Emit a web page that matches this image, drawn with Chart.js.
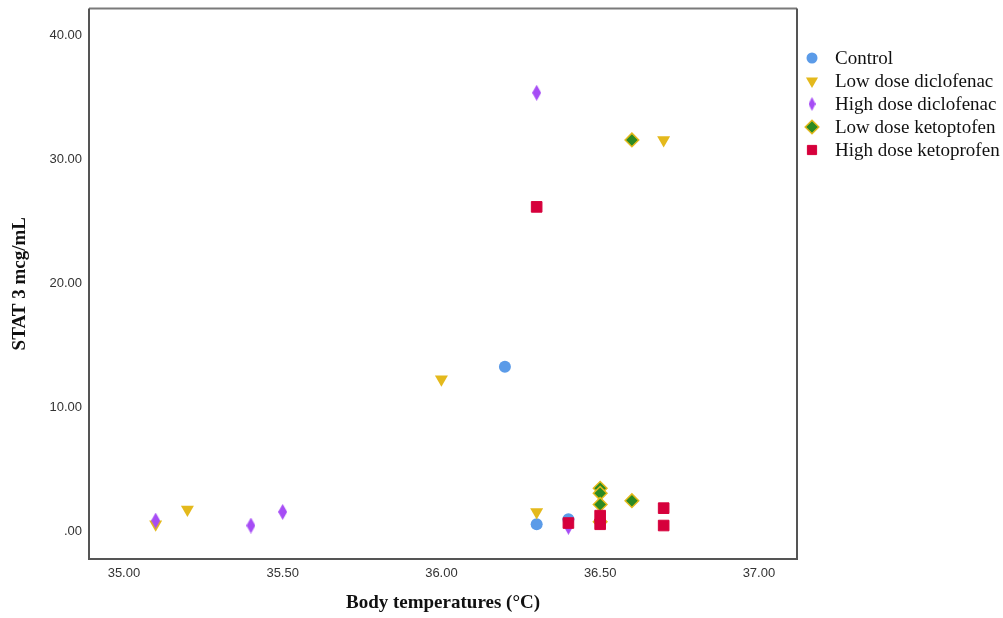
<!DOCTYPE html>
<html>
<head>
<meta charset="utf-8">
<title>STAT 3 vs body temperature</title>
<script src="https://cdn.jsdelivr.net/npm/chart.js@4.4.1/dist/chart.umd.min.js"></script>
<style>
  body { margin: 0; background: #fff; }
  #wrap { width: 1003px; height: 618px; }
</style>
</head>
<body>
<div id="wrap"><canvas id="scatterChart" width="1003" height="618"></canvas></div>
<script>
// Series values
const seriesNames = ['Control', 'Low dose diclofenac', 'High dose diclofenac', 'Low dose ketoptofen', 'High dose ketoprofen'];

const controlTemp = [36.2, 36.3, 36.4];
const controlStat = [13.3, 0.6, 1.0];

const lowDicloTemp = [35.1, 35.2, 36.0, 36.3, 36.7];
const lowDicloStat = [0.6, 1.8, 12.3, 1.6, 31.6];

const highDicloTemp = [35.1, 35.4, 35.5, 36.3, 36.4];
const highDicloStat = [0.9, 0.5, 1.6, 35.4, 0.4];

const lowKetoTemp = [36.5, 36.5, 36.5, 36.5, 36.6, 36.6];
const lowKetoStat = [3.5, 3.1, 2.2, 0.8, 31.6, 2.5];

const highKetoTemp = [36.3, 36.4, 36.5, 36.5, 36.7, 36.7];
const highKetoStat = [26.2, 0.7, 1.3, 0.6, 1.9, 0.5];

// Tick labels
const xTicks = [35.0, 35.5, 36.0, 36.5, 37.0];
const yTicks = [0, 10, 20, 30, 40];

function toPoints(xs, ys) {
    return xs.map((x, i) => ({ x: x, y: ys[i] }));
}

// thin purple diamond used by the high dose diclofenac group
function thinDiamond(color, w, h) {
    const c = document.createElement('canvas');
    c.width = w;
    c.height = h;
    const g = c.getContext('2d');
    g.fillStyle = color;
    g.beginPath();
    g.moveTo(w / 2, 0);
    g.lineTo(w, h / 2);
    g.lineTo(w / 2, h);
    g.lineTo(0, h / 2);
    g.closePath();
    g.fill();
    return c;
}

const purpleDiamond = thinDiamond('#a64cf5', 9, 16);
const purpleDiamondSmall = thinDiamond('#a64cf5', 7, 14);

const serif = '"Liberation Serif", "Times New Roman", serif';

// frame round the plot area
const framePlugin = {
    id: 'frame',
    beforeDatasetsDraw(chart) {
        const a = chart.chartArea;
        const ctx = chart.ctx;
        ctx.save();
        ctx.lineWidth = 2;
        ctx.strokeStyle = '#7a7a7a';
        ctx.beginPath();
        ctx.moveTo(a.left, a.top);
        ctx.lineTo(a.right, a.top);
        ctx.stroke();
        ctx.strokeStyle = '#555';
        ctx.beginPath();
        ctx.moveTo(a.left, a.top);
        ctx.lineTo(a.left, a.bottom);
        ctx.lineTo(a.right, a.bottom);
        ctx.lineTo(a.right, a.top);
        ctx.stroke();
        ctx.restore();
    }
};

// legend on the right, drawn with the datasets' own point styles
const sideLegend = {
    id: 'sideLegend',
    afterDraw(chart) {
        const ctx = chart.ctx;
        const helpers = Chart.helpers;
        ctx.save();
        chart.data.datasets.forEach((ds, i) => {
            const cx = 812;
            const cy = 58 + i * 23;
            ctx.fillStyle = ds.backgroundColor;
            ctx.strokeStyle = ds.borderColor;
            ctx.lineWidth = ds.borderWidth;
            const style = ds.legendStyle || ds.pointStyle;
            if (helpers && helpers.drawPoint) {
                helpers.drawPoint(ctx, {
                    pointStyle: style,
                    rotation: ds.pointRotation || 0,
                    radius: ds.legendRadius,
                    borderWidth: ds.borderWidth
                }, cx, cy);
            } else {
                ctx.beginPath();
                ctx.arc(cx, cy, 5, 0, Math.PI * 2);
                ctx.fill();
            }
            ctx.fillStyle = '#111';
            ctx.font = '19px ' + serif;
            ctx.textAlign = 'left';
            ctx.textBaseline = 'middle';
            ctx.fillText(ds.label, 835, cy + 1);
        });
        ctx.restore();
    }
};

new Chart(document.getElementById('scatterChart'), {
    type: 'scatter',
    data: {
        datasets: [{
            label: seriesNames[0],
            data: toPoints(controlTemp, controlStat),
            pointStyle: 'circle',
            pointRadius: 6,
            legendRadius: 5.5,
            backgroundColor: '#5b9be8',
            borderColor: '#5b9be8',
            borderWidth: 0,
            order: 5
        }, {
            label: seriesNames[1],
            data: toPoints(lowDicloTemp, lowDicloStat),
            pointStyle: 'triangle',
            pointRotation: 180,
            pointRadius: 7.5,
            legendRadius: 7,
            backgroundColor: '#e4b91c',
            borderColor: '#e4b91c',
            borderWidth: 0,
            order: 4
        }, {
            label: seriesNames[2],
            data: toPoints(highDicloTemp, highDicloStat),
            pointStyle: purpleDiamond,
            legendStyle: purpleDiamondSmall,
            pointRadius: 8,
            legendRadius: 7,
            backgroundColor: '#a64cf5',
            borderColor: '#a64cf5',
            borderWidth: 0,
            order: 3
        }, {
            label: seriesNames[3],
            data: toPoints(lowKetoTemp, lowKetoStat),
            pointStyle: 'rectRot',
            pointRadius: 6.8,
            legendRadius: 6.8,
            backgroundColor: '#2b8a22',
            borderColor: '#e4b91c',
            borderWidth: 1.5,
            order: 2
        }, {
            label: seriesNames[4],
            data: toPoints(highKetoTemp, highKetoStat),
            pointStyle: 'rect',
            pointRadius: 7.5,
            legendRadius: 6.5,
            backgroundColor: '#d6003c',
            borderColor: '#d6003c',
            borderWidth: 1,
            order: 1
        }]
    },
    options: {
        responsive: false,
        animation: false,
        layout: {
            padding: { top: 8, right: 206, left: 0, bottom: 0 }
        },
        plugins: {
            legend: { display: false },
            tooltip: { enabled: false }
        },
        scales: {
            x: {
                type: 'linear',
                min: 34.89,
                max: 37.12,
                grid: { display: false, drawTicks: false },
                border: { display: false },
                afterBuildTicks(scale) {
                    scale.ticks = xTicks.map(v => ({ value: v }));
                },
                afterFit(scale) {
                    scale.height = 59;
                    scale.paddingLeft = 0;
                    scale.paddingRight = 0;
                },
                ticks: {
                    padding: 7,
                    color: '#333',
                    font: { family: '"Liberation Sans", Arial, sans-serif', size: 13 },
                    callback: v => Number(v).toFixed(2)
                },
                title: {
                    display: true,
                    text: 'Body temperatures (\u00B0C)',
                    color: '#111',
                    font: { family: serif, size: 19, weight: 'bold' },
                    padding: { top: 0, bottom: 4 }
                }
            },
            y: {
                type: 'linear',
                min: -2.2,
                max: 42.2,
                grid: { display: false, drawTicks: false },
                border: { display: false },
                afterBuildTicks(scale) {
                    scale.ticks = yTicks.map(v => ({ value: v }));
                },
                afterFit(scale) {
                    scale.width = 89;
                    scale.paddingTop = 0;
                    scale.paddingBottom = 0;
                },
                ticks: {
                    padding: 7,
                    color: '#333',
                    font: { family: '"Liberation Sans", Arial, sans-serif', size: 13 },
                    callback: v => v === 0 ? '.00' : Number(v).toFixed(2)
                },
                title: {
                    display: true,
                    text: 'STAT 3 mcg/mL',
                    color: '#111',
                    font: { family: serif, size: 19, weight: 'bold' },
                    padding: { top: 9, bottom: 0 }
                }
            }
        }
    },
    plugins: [framePlugin, sideLegend]
});
</script>
</body>
</html>
